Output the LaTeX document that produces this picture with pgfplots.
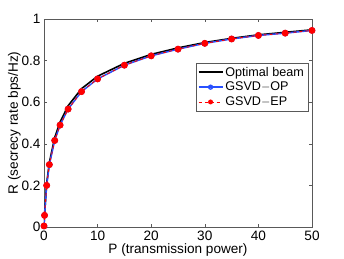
\documentclass[border=0pt]{standalone}
\usepackage{pgfplots}
\pgfplotsset{compat=1.18}
\usepackage{fontspec}
\setmainfont{Liberation Sans}
\definecolor{mblue}{RGB}{40,80,255}
\begin{document}
\begin{tikzpicture}[x=1pt,y=1pt]
\useasboundingbox (-44,-31) rectangle (300,227);
\begin{axis}[
  at={(0,0)}, anchor=south west,
  scale only axis, width=268pt, height=208pt,
  xmin=0, xmax=50, ymin=0, ymax=1,
  xtick={0,10,...,50}, ytick={0,0.2,...,1},
  yticklabels={0,0.2,0.4,0.6,0.8,1},
  /pgf/number format/assume math mode=true,
  tick align=inside, tick pos=both,
  major tick length=3pt,
  tick label style={font=\fontsize{13.6}{15}\selectfont},
  label style={font=\fontsize{13.6}{15}\selectfont},
  xlabel={P (transmission power)},
  ylabel={R (secrecy rate bps/Hz)},
  xlabel style={yshift=3pt},
  ylabel style={yshift=-6pt},
  axis line style={gray!70!black, line width=0.6pt},
  every tick/.style={gray!70!black},
  legend style={at={(0.985,0.79)}, anchor=north east, font=\fontsize{12.6}{14}\selectfont,
    draw=gray!70!black, row sep=0.5pt, inner sep=2pt},
  legend cell align=left,
  legend image code/.code={\draw[mark repeat=2,mark phase=2,mark size=2pt,#1] plot coordinates {(0pt,0pt) (12pt,0pt) (24pt,0pt)};},
]
\addplot[black, line width=1.6pt] coordinates {
(0,0.006) (0.1,0.06) (0.5,0.21) (1,0.31) (2,0.43) (3,0.505) (4.5,0.583) (7,0.665) (10,0.725) (15,0.787) (20,0.83) (25,0.861) (30,0.887) (35,0.907) (40,0.924) (45,0.936) (50,0.948)
};
\addlegendentry{Optimal beam}
\addplot[mblue, line width=1.5pt, mark=o, mark size=2.6pt, mark options={solid, line width=1.3pt}] coordinates {
(0,0.005) (0.1,0.056) (0.5,0.2) (1,0.3) (2,0.416) (3,0.49) (4.5,0.567) (7,0.651) (10,0.712) (15,0.778) (20,0.823) (25,0.855) (30,0.883) (35,0.904) (40,0.921) (45,0.932) (50,0.945)
};
\addlegendentry{GSVD$-$OP}
\addplot[red, line width=0.9pt, dashed, mark=*, mark size=3pt, mark options={solid, fill=red, draw=red}] coordinates {
(0,0.005) (0.1,0.056) (0.5,0.2) (1,0.3) (2,0.416) (3,0.49) (4.5,0.567) (7,0.651) (10,0.712) (15,0.778) (20,0.823) (25,0.855) (30,0.883) (35,0.904) (40,0.921) (45,0.932) (50,0.945)
};
\addlegendentry{GSVD$-$EP}
\end{axis}
\end{tikzpicture}
\end{document}
